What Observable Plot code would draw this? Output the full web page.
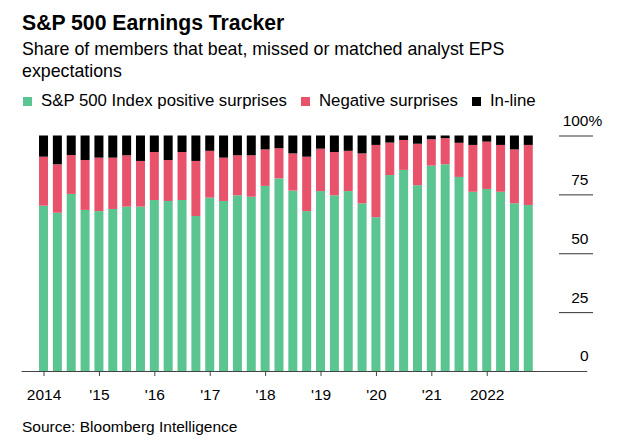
<!DOCTYPE html>
<html><head><meta charset="utf-8">
<script src="https://cdn.jsdelivr.net/npm/d3@7"></script>
<script src="https://cdn.jsdelivr.net/npm/@observablehq/plot@0.6"></script>
<style>
html,body{margin:0;padding:0;background:#fff}
body{font-family:"Liberation Sans",Arial,sans-serif;color:#000}
#wrap{position:relative;width:630px;height:445px;overflow:hidden;background:#fff}
.t{position:absolute;left:22px;line-height:1;white-space:nowrap}
#legend{position:absolute;left:23px;top:93px;display:flex;align-items:center;font-size:16.8px;line-height:1;white-space:nowrap}
.item{display:flex;align-items:center;margin-right:14px}
.sw{width:9px;height:9px;margin-right:9px;margin-top:1px}
#chart{position:absolute;left:0;top:110px}
</style></head><body>
<div id="wrap">
  <div class="t" style="top:12px;font-size:21.2px;font-weight:bold">S&amp;P 500 Earnings Tracker</div>
  <div class="t" style="top:41px;font-size:17.8px">Share of members that beat, missed or matched analyst EPS</div>
  <div class="t" style="top:63px;font-size:17.8px">expectations</div>
  <div id="legend"></div>
  <div id="chart"></div>
  <div class="t" style="top:419px;font-size:15.5px">Source: Bloomberg Intelligence</div>
</div>
<script>
const quarters = ["2014 Q1","2014 Q2","2014 Q3","2014 Q4","2015 Q1","2015 Q2","2015 Q3","2015 Q4",
  "2016 Q1","2016 Q2","2016 Q3","2016 Q4","2017 Q1","2017 Q2","2017 Q3","2017 Q4",
  "2018 Q1","2018 Q2","2018 Q3","2018 Q4","2019 Q1","2019 Q2","2019 Q3","2019 Q4",
  "2020 Q1","2020 Q2","2020 Q3","2020 Q4","2021 Q1","2021 Q2","2021 Q3","2021 Q4",
  "2022 Q1","2022 Q2","2022 Q3","2022 Q4"];
const positive = [70.2,67.2,75.2,68.4,67.9,68.8,69.8,69.8,72.6,72.2,72.6,65.8,73.6,72.2,74.6,74.0,
  78.6,81.8,76.6,67.9,76.4,74.6,76.4,71.2,65.3,83.2,85.4,78.9,87.2,87.8,82.4,76.1,77.3,76.1,71.2,70.5];
const negative = [20.8,20.6,16.5,21.2,22.7,21.8,21.8,19.4,20.4,17.4,20.4,23.4,19.9,18.4,17.0,17.6,
  15.5,12.8,15.8,23.1,18.0,18.4,17.1,21.2,30.7,13.8,12.7,17.6,11.2,11.1,14.5,19.9,20.1,19.9,22.9,25.5];
const inLine = [9.0,12.2,8.3,10.4,9.4,9.4,8.4,10.8,7.0,10.4,7.0,10.8,6.5,9.4,8.4,8.4,
  5.9,5.4,7.6,9.0,5.6,7.0,6.5,7.6,4.0,3.0,1.9,3.5,1.6,1.1,3.1,4.0,2.6,4.0,5.9,4.0];
const seriesNames = ["S&P 500 Index positive surprises","Negative surprises","In-line"];
const seriesColors = ["#5bc592","#e8536b","#000000"];
const yTicks = [0,25,50,75,100];
const xTickQuarters = ["2014 Q1","2015 Q1","2016 Q1","2017 Q1","2018 Q1","2019 Q1","2020 Q1","2021 Q1","2022 Q1"];
const xTickLabels = ["2014","'15","'16","'17","'18","'19","'20","'21","2022"];

const seriesValues = [positive, negative, inLine];
const rows = quarters.flatMap((q, i) => seriesNames.map((s, j) => ({quarter: q, series: s, value: seriesValues[j][i]})));

// legend
const legend = document.getElementById("legend");
seriesNames.forEach((s, j) => {
  const it = document.createElement("div"); it.className = "item";
  const sw = document.createElement("div"); sw.className = "sw"; sw.style.background = seriesColors[j];
  const tx = document.createElement("span"); tx.textContent = s;
  it.appendChild(sw); it.appendChild(tx); legend.appendChild(it);
});

const W = 630, H = 300, mL = 36.6, mR = 94.8;
const plot = Plot.plot({
  width: W, height: H,
  marginTop: 25.5, marginBottom: 39, marginLeft: mL, marginRight: mR,
  style: {fontFamily: "'Liberation Sans', Arial, sans-serif", fontSize: "15.5px", color: "#000", background: "transparent", overflow: "visible"},
  x: {type: "band", domain: quarters, paddingInner: 0.35, paddingOuter: 0.175, align: 0.5, round: false, axis: null},
  y: {domain: [0, 100], axis: null},
  color: {domain: seriesNames, range: seriesColors},
  marks: [
    Plot.ruleY(yTicks.filter(d => d > 0), {insetLeft: 559 - mL, insetRight: -(593 - (W - mR)), stroke: "#333", strokeWidth: 1}),
    Plot.barY(rows, {x: "quarter", y: "value", fill: "series", order: seriesNames}),
    Plot.ruleY([0], {insetLeft: -15, insetRight: -52, stroke: "#444", strokeWidth: 1.2}),
    Plot.axisX({ticks: xTickQuarters, tickFormat: d => xTickLabels[xTickQuarters.indexOf(d)], tickSize: 5, tickPadding: 12, stroke: "#444", fill: "#000", fontSize: 15.5, label: null}),
    Plot.text(yTicks, {y: d => d, text: d => String(d), frameAnchor: "right", textAnchor: "end", dx: 588 - (W - mR), dy: -15, fontSize: 15.5, fill: "#000"}),
    Plot.text([100], {y: d => d, text: () => "%", frameAnchor: "right", textAnchor: "start", dx: 588 - (W - mR), dy: -15, fontSize: 15.5, fill: "#000"})
  ]
});
document.getElementById("chart").appendChild(plot);
</script>
</body></html>
